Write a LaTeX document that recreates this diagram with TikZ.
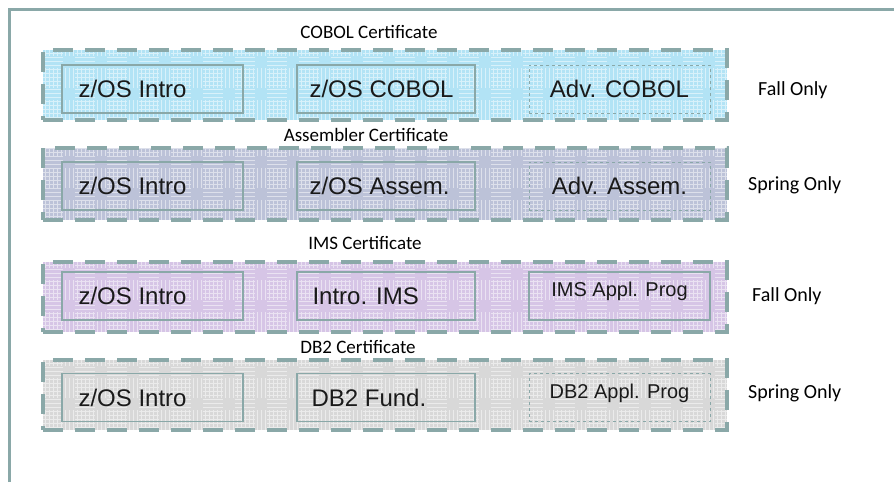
\documentclass[tikz,border=0pt]{standalone}
\usepackage{fontspec}
\setmainfont{Liberation Sans}
\newfontfamily\labfont{Carlito}
\definecolor{framec}{HTML}{8AA8A8}
\definecolor{cobolc}{HTML}{B2E3F5}
\definecolor{assemc}{HTML}{BCC2D8}
\definecolor{imsc}{HTML}{D6C5E6}
\definecolor{dbc}{HTML}{D8D8D8}
\definecolor{txtc}{HTML}{1A1A1A}
\tikzset{
  band/.style={draw=framec, line width=4pt, dash pattern=on 20pt off 12pt,
    minimum width=684pt, minimum height=70pt, inner sep=0pt,
    path picture={\draw[white, opacity=.5, line width=.8pt]
      (path picture bounding box.south west) grid[step=4pt] (path picture bounding box.north east);}},
  course/.style={draw=framec, line width=1.3pt, minimum height=48pt, inner sep=0pt},
  coursed/.style={course, dashed, line width=1pt},
  ctext/.style={text=txtc, font=\fontsize{24}{28}\selectfont, inner sep=0pt},
  stext/.style={text=txtc, font=\fontsize{20}{24}\selectfont, inner sep=0pt},
  cert/.style={text=black, font=\labfont\fontsize{19}{22}\selectfont, inner sep=0pt},
  term/.style={text=black, font=\labfont\fontsize{20}{24}\selectfont, inner sep=0pt},
}
\begin{document}
\begin{tikzpicture}[x=1pt, y=-1pt]
\useasboundingbox (0,0) rectangle (894,482);
\fill[white] (0,0) rectangle (894,482);
\draw[framec, line width=3pt] (9,482) -- (9,9) -- (894,9);

% Band 1: COBOL
\node[cert] (c1) at (369,32) {COBOL Certificate};
\node[band, fill=cobolc] (b1) at (385,85) {};
\node[course, minimum width=181pt] (b1a) at (152.5,89) {};
\node[course, minimum width=178pt] (b1b) at (386,89) {};
\node[coursed, minimum width=181pt] (b1c) at (619.5,89) {};
\node[ctext, anchor=west] (t1a) at ([xshift=17pt]b1a.west) {z/OS Intro};
\node[ctext, anchor=west] (t1b) at ([xshift=13pt]b1b.west) {z/OS COBOL};
\node[ctext] (t1c) at (b1c) {Adv. COBOL};
\node[term, anchor=west] (s1) at (758,90) {Fall Only};

% Band 2: Assembler
\node[cert] (c2) at (366,135) {Assembler Certificate};
\node[band, fill=assemc, minimum height=72pt] (b2) at (385,184) {};
\node[course, minimum width=181pt] (b2a) at (152.5,186) {};
\node[course, minimum width=178pt] (b2b) at (386,186) {};
\node[coursed, minimum width=181pt] (b2c) at (619.5,186) {};
\node[ctext, anchor=west] (t2a) at ([xshift=17pt]b2a.west) {z/OS Intro};
\node[ctext, anchor=west] (t2b) at ([xshift=13pt]b2b.west) {z/OS Assem.};
\node[ctext] (t2c) at (b2c) {Adv. Assem.};
\node[term, anchor=west] (s2) at (748,185) {Spring Only};

% Band 3: IMS
\node[cert] (c3) at (365,243) {IMS Certificate};
\node[band, fill=imsc] (b3) at (385,297) {};
\node[course, minimum width=181pt] (b3a) at (152.5,296) {};
\node[course, minimum width=178pt] (b3b) at (386,296) {};
\node[course, minimum width=181pt] (b3c) at (619.5,296) {};
\node[ctext, anchor=west] (t3a) at ([xshift=17pt]b3a.west) {z/OS Intro};
\node[ctext, anchor=west] (t3b) at ([xshift=16pt]b3b.west) {Intro. IMS};
\node[stext] (t3c) at ([yshift=5pt]b3c) {IMS Appl. Prog};
\node[term, anchor=west] (s3) at (752,296) {Fall Only};

% Band 4: DB2
\node[cert] (c4) at (358,347) {DB2 Certificate};
\node[band, fill=dbc] (b4) at (385,395) {};
\node[course, minimum width=181pt] (b4a) at (152.5,397.5) {};
\node[course, minimum width=178pt] (b4b) at (386,397.5) {};
\node[coursed, minimum width=181pt] (b4c) at (619.5,397.5) {};
\node[ctext, anchor=west] (t4a) at ([xshift=17pt]b4a.west) {z/OS Intro};
\node[ctext, anchor=west] (t4b) at ([xshift=15pt]b4b.west) {DB2 Fund.};
\node[stext] (t4c) at ([yshift=4pt]b4c) {DB2 Appl. Prog};
\node[term, anchor=west] (s4) at (748,393) {Spring Only};
\end{tikzpicture}
\end{document}
